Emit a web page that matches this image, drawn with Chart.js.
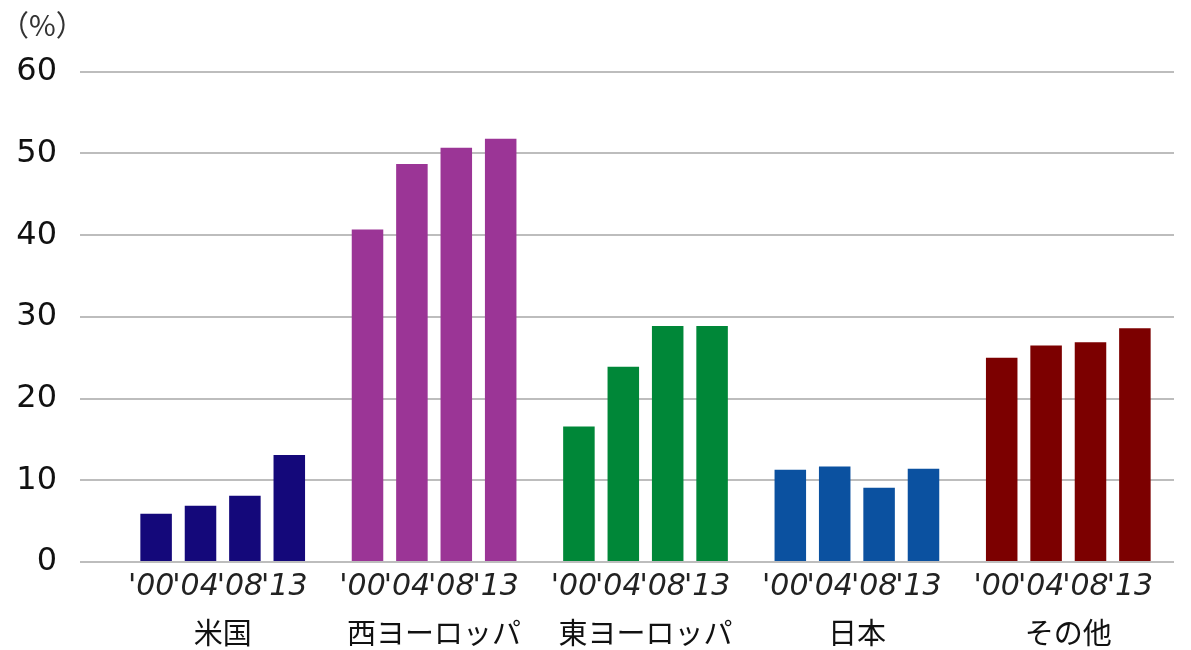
<!DOCTYPE html>
<html>
<head>
<meta charset="utf-8">
<script src="https://cdn.jsdelivr.net/npm/chart.js@4/dist/chart.umd.min.js"></script>
<style>
  html, body { margin: 0; padding: 0; background: #fff; }
  #wrap { width: 1191px; height: 650px; position: relative; }
</style>
</head>
<body>
<div id="wrap"><canvas id="c" width="1191" height="650"></canvas></div>
<script>
const categories = ['米国', '西ヨーロッパ', '東ヨーロッパ', '日本', 'その他'];
const years = ["'00", "'04", "'08", "'13"];
const v00 = [5.9, 40.7, 16.6, 11.3, 25.0];
const v04 = [6.9, 48.7, 23.9, 11.7, 26.5];
const v08 = [8.1, 50.7, 28.9, 9.1, 26.9];
const v13 = [13.1, 51.8, 28.9, 11.4, 28.6];
const yTicks = [0, 10, 20, 30, 40, 50, 60];
const groupColors = ['#14087a', '#9b3596', '#008738', '#0b51a0', '#7c0000'];
const unitLabel = '（%）';

const seriesValues = [v00, v04, v08, v13];

const yearLabels = {
  id: 'yearLabels',
  afterDatasetsDraw(chart) {
    const ctx = chart.ctx;
    ctx.save();
    ctx.font = 'italic 30px "DejaVu Sans"';
    ctx.fillStyle = '#222';
    ctx.textAlign = 'center';
    ctx.textBaseline = 'middle';
    chart.data.datasets.forEach((ds, i) => {
      const meta = chart.getDatasetMeta(i);
      meta.data.forEach(el => {
        ctx.fillText(ds.label, el.x - 5, chart.chartArea.bottom + 25);
      });
    });
    ctx.restore();
  }
};

new Chart(document.getElementById('c'), {
  type: 'bar',
  data: {
    labels: categories,
    datasets: seriesValues.map((vals, i) => ({
      label: years[i],
      data: vals,
      backgroundColor: groupColors,
      borderWidth: 0,
      categoryPercentage: 0.84,
      barPercentage: 0.71
    }))
  },
  options: {
    responsive: false,
    animation: false,
    layout: { padding: { left: 0, right: 17, top: 0, bottom: 0 } },
    plugins: {
      legend: { display: false },
      tooltip: { enabled: false },
      title: {
        display: true,
        text: unitLabel,
        align: 'start',
        color: '#333',
        font: { family: '"Noto Sans CJK JP"', size: 29, weight: 'normal' },
        padding: { top: 8, bottom: 29 }
      }
    },
    scales: {
      x: {
        afterFit(scale) { scale.height = 88; },
        grid: { display: false, drawTicks: false },
        border: { display: false },
        ticks: {
          color: '#111',
          padding: 54,
          font: { family: '"Noto Sans CJK JP"', size: 29 }
        }
      },
      y: {
        min: 0,
        max: 60,
        afterBuildTicks(scale) { scale.ticks = yTicks.map(v => ({ value: v })); },
        afterFit(scale) { scale.width = 117; },
        grid: { color: '#bdbdbd', lineWidth: 2, tickLength: 37, drawTicks: true, tickColor: '#bdbdbd' },
        border: { display: false },
        ticks: {
          color: '#111',
          padding: 23,
          font: { family: '"DejaVu Sans"', size: 32 }
        }
      }
    }
  },
  plugins: [yearLabels]
});
</script>
</body>
</html>
